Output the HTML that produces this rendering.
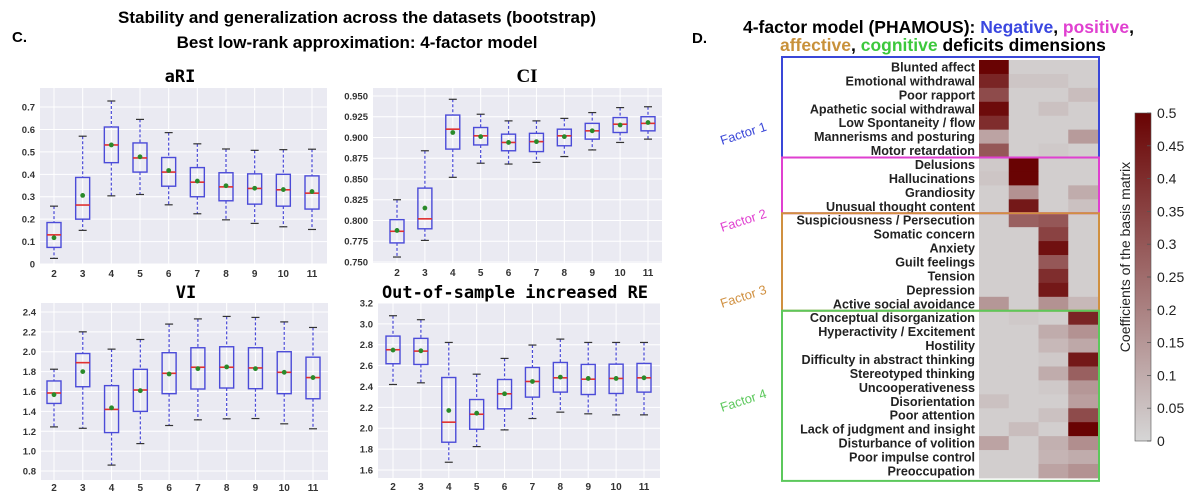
<!DOCTYPE html>
<html><head><meta charset="utf-8">
<style>
html,body{margin:0;padding:0;background:#fff;}
svg{display:block;}
</style></head>
<body>
<svg id="fig" width="1200" height="491" viewBox="0 0 1200 491" xmlns="http://www.w3.org/2000/svg" font-family="Liberation Sans, sans-serif">
<text x="12" y="42" font-size="15" font-weight="bold">C.</text>
<text x="357" y="23" font-size="17" font-weight="bold" text-anchor="middle">Stability and generalization across the datasets (bootstrap)</text>
<text x="357" y="48" font-size="17" font-weight="bold" text-anchor="middle">Best low-rank approximation: 4-factor model</text>
<text x="692" y="43" font-size="15" font-weight="bold">D.</text>
<text x="743" y="33" font-size="17.5" font-weight="bold">4-factor model (PHAMOUS): <tspan fill="#3a47e0">Negative</tspan>, <tspan fill="#e040d0">positive</tspan>,</text>
<text x="780" y="51" font-size="17.5" font-weight="bold"><tspan fill="#c8913a">affective</tspan>, <tspan fill="#3cc83c">cognitive</tspan> deficits dimensions</text>
<g id="plots"></g>
<g id="heat"></g>
</svg>
<script>
const cats = [2,3,4,5,6,7,8,9,10,11];
// aRI
const ariQ1 = [0.074,0.200,0.452,0.410,0.347,0.300,0.282,0.267,0.258,0.245];
const ariMed = [0.130,0.263,0.531,0.473,0.410,0.365,0.344,0.337,0.331,0.316];
const ariQ3 = [0.185,0.386,0.611,0.540,0.475,0.430,0.407,0.402,0.400,0.393];
const ariLo = [0.025,0.150,0.304,0.310,0.264,0.224,0.197,0.181,0.166,0.154];
const ariHi = [0.258,0.570,0.727,0.645,0.586,0.536,0.513,0.507,0.510,0.512];
const ariMean = [0.117,0.306,0.531,0.478,0.417,0.370,0.349,0.338,0.332,0.323];
const ariTicks = ["0","0.1","0.2","0.3","0.4","0.5","0.6","0.7"];
// CI
const ciQ1 = [0.773,0.790,0.886,0.891,0.884,0.883,0.890,0.898,0.906,0.908];
const ciMed = [0.787,0.802,0.910,0.902,0.894,0.895,0.902,0.908,0.916,0.917];
const ciQ3 = [0.801,0.839,0.927,0.912,0.904,0.905,0.910,0.917,0.924,0.925];
const ciLo = [0.756,0.776,0.852,0.869,0.868,0.870,0.877,0.885,0.894,0.898];
const ciHi = [0.825,0.884,0.946,0.928,0.920,0.920,0.923,0.930,0.936,0.937];
const ciMean = [0.788,0.815,0.906,0.901,0.894,0.895,0.901,0.908,0.915,0.918];
const ciTicks = ["0.750","0.775","0.800","0.825","0.850","0.875","0.900","0.925","0.950"];
// VI
const viQ1 = [1.480,1.648,1.187,1.400,1.578,1.625,1.635,1.628,1.578,1.527];
const viMed = [1.585,1.890,1.420,1.615,1.783,1.844,1.844,1.837,1.793,1.740];
const viQ3 = [1.706,1.982,1.659,1.823,1.990,2.040,2.050,2.040,2.000,1.945];
const viLo = [1.244,1.230,0.860,1.076,1.258,1.315,1.325,1.328,1.275,1.225];
const viHi = [1.824,2.200,2.026,2.123,2.278,2.330,2.355,2.345,2.300,2.244];
const viMean = [1.568,1.800,1.436,1.608,1.776,1.830,1.847,1.830,1.793,1.740];
const viTicks = ["0.8","1.0","1.2","1.4","1.6","1.8","2.0","2.2","2.4"];
// RE
const reQ1 = [2.618,2.611,1.866,1.990,2.186,2.298,2.346,2.323,2.333,2.346];
const reMed = [2.752,2.739,2.058,2.134,2.330,2.448,2.483,2.470,2.477,2.483];
const reQ3 = [2.883,2.861,2.486,2.275,2.467,2.582,2.630,2.611,2.614,2.621];
const reLo = [2.419,2.435,1.674,1.824,1.984,2.093,2.154,2.138,2.128,2.128];
const reHi = [3.078,3.040,2.822,2.518,2.669,2.797,2.854,2.822,2.822,2.822];
const reMean = [2.749,2.742,2.170,2.144,2.330,2.448,2.490,2.477,2.477,2.483];
const reTicks = ["1.6","1.8","2.0","2.2","2.4","2.6","2.8","3.0","3.2"];

// heatmap
const rowLabels = ["Blunted affect","Emotional withdrawal","Poor rapport","Apathetic social withdrawal","Low Spontaneity / flow","Mannerisms and posturing","Motor retardation","Delusions","Hallucinations","Grandiosity","Unusual thought content","Suspiciousness / Persecution","Somatic concern","Anxiety","Guilt feelings","Tension","Depression","Active social avoidance","Conceptual disorganization","Hyperactivity / Excitement","Hostility","Difficulty in abstract thinking","Stereotyped thinking","Uncooperativeness","Disorientation","Poor attention","Lack of judgment and insight","Disturbance of volition","Poor impulse control","Preoccupation"];
const factor1 = [0.50,0.42,0.33,0.48,0.40,0.12,0.30,0.03,0.04,0.02,0.02,0.02,0.02,0.02,0.02,0.02,0.02,0.15,0.02,0.02,0.02,0.02,0.02,0.02,0.05,0.02,0.02,0.12,0.02,0.02];
const factor2 = [0.02,0.04,0.02,0.02,0.02,0.02,0.02,0.50,0.50,0.16,0.45,0.28,0.02,0.02,0.02,0.02,0.02,0.02,0.03,0.02,0.02,0.02,0.02,0.02,0.02,0.02,0.06,0.02,0.02,0.02];
const factor3 = [0.02,0.04,0.02,0.05,0.02,0.02,0.03,0.02,0.02,0.02,0.02,0.30,0.35,0.47,0.30,0.40,0.45,0.16,0.02,0.10,0.07,0.03,0.10,0.03,0.02,0.05,0.02,0.09,0.08,0.12];
const factor4 = [0.02,0.02,0.06,0.02,0.02,0.14,0.02,0.02,0.02,0.10,0.05,0.02,0.02,0.02,0.02,0.02,0.02,0.07,0.42,0.16,0.11,0.45,0.28,0.15,0.13,0.33,0.50,0.17,0.10,0.16];
const cbTicks = ["0","0.05","0.1","0.15","0.2","0.25","0.3","0.35","0.4","0.45","0.5"];

const NS = "http://www.w3.org/2000/svg";
function mk(tag, attrs, parent){const e=document.createElementNS(NS,tag);for(const k in attrs)e.setAttribute(k,attrs[k]);parent.appendChild(e);return e;}

const plotsG = document.getElementById('plots');
const panels = [
 {name:'ari',title:'aRI',tf:'DejaVu Sans Mono, monospace',x0:40,x1:327,y0:88,y1:264,vmin:0,vmax:0.785,c0:54,c1:312,q1:ariQ1,med:ariMed,q3:ariQ3,lo:ariLo,hi:ariHi,mean:ariMean,ticks:ariTicks,tx:180,ty:82,xl:277},
 {name:'ci',title:'CI',tf:'Liberation Serif, serif',x0:373,x1:662,y0:88,y1:263,vmin:0.7488,vmax:0.9596,c0:397,c1:648,q1:ciQ1,med:ciMed,q3:ciQ3,lo:ciLo,hi:ciHi,mean:ciMean,ticks:ciTicks,tx:527,ty:82,xl:276},
 {name:'vi',title:'VI',tf:'DejaVu Sans Mono, monospace',x0:41,x1:328,y0:303,y1:480,vmin:0.71,vmax:2.49,c0:54,c1:313,q1:viQ1,med:viMed,q3:viQ3,lo:viLo,hi:viHi,mean:viMean,ticks:viTicks,tx:186,ty:298,xl:491},
 {name:'re',title:'Out-of-sample increased RE',tf:'DejaVu Sans Mono, monospace',x0:378,x1:660,y0:303,y1:478,vmin:1.523,vmax:3.2,c0:393,c1:644,q1:reQ1,med:reMed,q3:reQ3,lo:reLo,hi:reHi,mean:reMean,ticks:reTicks,tx:515,ty:298,xl:490}
];
panels.forEach(p=>{
  const g = mk('g',{},plotsG);
  
  
  const Y = v => p.y1 - (v-p.vmin)/(p.vmax-p.vmin)*(p.y1-p.y0);
  const X = i => p.c0 + i*(p.c1-p.c0)/(cats.length-1);
  const bg = mk('rect',{x:p.x0,y:p.y0,width:p.x1-p.x0,height:p.y1-p.y0,fill:'#eaeaf2'},g);
  
  
  const t = mk('text',{x:p.tx,y:p.ty,'font-size':p.name==='ci'?19:17,'font-weight':'bold','text-anchor':'middle','font-family':p.tf},g);
  t.textContent = p.title;
  
  
  p.ticks.forEach(s=>{
    const v=parseFloat(s), y=Y(v);
    mk('line',{x1:p.x0,x2:p.x1,y1:y,y2:y,stroke:'#fff','stroke-width':1},g);
    const tl = mk('text',{x:p.x0-5,y:y+3.5,'font-size':9.5,'font-weight':'bold','text-anchor':'end',fill:'#333'},g);
    tl.textContent = s;
    
    
  });
  cats.forEach((c,i)=>{
    const x=X(i);
    mk('line',{x1:x,x2:x,y1:p.y0,y2:p.y1,stroke:'#fff','stroke-width':1},g);
    const xl = mk('text',{x:x,y:p.xl,'font-size':10,'font-weight':'bold','text-anchor':'middle',fill:'#333'},g);
    xl.textContent = c;
    
    
    const bw=7, cw=4;
    const bx = mk('g',{},g);
    
    
    mk('line',{x1:x,x2:x,y1:Y(p.hi[i]),y2:Y(p.q3[i]),stroke:'#4b4bd8','stroke-width':1.2,'stroke-dasharray':'3,2'},bx);
    mk('line',{x1:x,x2:x,y1:Y(p.q1[i]),y2:Y(p.lo[i]),stroke:'#4b4bd8','stroke-width':1.2,'stroke-dasharray':'3,2'},bx);
    mk('line',{x1:x-cw,x2:x+cw,y1:Y(p.hi[i]),y2:Y(p.hi[i]),stroke:'#333','stroke-width':1.2},bx);
    mk('line',{x1:x-cw,x2:x+cw,y1:Y(p.lo[i]),y2:Y(p.lo[i]),stroke:'#333','stroke-width':1.2},bx);
    mk('rect',{x:x-bw,y:Y(p.q3[i]),width:bw*2,height:Y(p.q1[i])-Y(p.q3[i]),fill:'none',stroke:'#4b4bd8','stroke-width':1.4},bx);
    mk('line',{x1:x-bw,x2:x+bw,y1:Y(p.med[i]),y2:Y(p.med[i]),stroke:'#e03030','stroke-width':1.6},bx);
    mk('circle',{cx:x,cy:Y(p.mean[i]),r:2.4,fill:'#2a8a2a'},bx);
  });
});

// heatmap
const hg = document.getElementById('heat');
const hx0=979, hy0=60, cw=29.75, rh=13.93;
const factors=[factor1,factor2,factor3,factor4];
function col(v){const t=Math.max(0,Math.min(1,v/0.5));const a=[214,214,214],b=[105,3,3];return 'rgb('+a.map((c,k)=>Math.round(c+(b[k]-c)*t)).join(',')+')';}
rowLabels.forEach((lab,r)=>{
  const y=hy0+r*rh;
  const tl=mk('text',{x:975,y:y+rh/2+4.5,'font-size':12.6,'font-weight':'bold','text-anchor':'end','font-family':'Liberation Sans, sans-serif',fill:'#222'},hg);
  tl.textContent=lab;
  
  
  factors.forEach((f,c)=>{
    const cell=mk('rect',{x:hx0+c*cw,y:y,width:cw+0.5,height:rh+0.5,fill:col(f[r])},hg);
    
    
  });
});
// factor boxes
const boxes=[{n:'factor-1',r0:0,r1:7,c:'#3a47d8',l:'Factor 1',lx:722,ly:145},{n:'factor-2',r0:7,r1:11,c:'#e040d0',l:'Factor 2',lx:722,ly:232},{n:'factor-3',r0:11,r1:18,c:'#d09040',l:'Factor 3',lx:722,ly:308},{n:'factor-4',r0:18,r1:30,c:'#5cc85c',l:'Factor 4',lx:722,ly:412}];
boxes.forEach(b=>{
  const y0=hy0+b.r0*rh-(b.r0===0?3:0), y1=hy0+b.r1*rh+(b.r1===30?3:0);
  const rr=mk('rect',{x:782,y:y0,width:1099-782,height:y1-y0,fill:'none',stroke:b.c,'stroke-width':2},hg);
  
  
  const t=mk('text',{x:b.lx,y:b.ly,'font-size':13,fill:b.c,transform:'rotate(-18 '+b.lx+' '+b.ly+')'},hg);
  t.textContent=b.l;
  
  
});
// colorbar
const defs=mk('defs',{},hg);
const lg=mk('linearGradient',{id:'cb',x1:0,y1:1,x2:0,y2:0},defs);
mk('stop',{offset:0,'stop-color':col(0)},lg);
mk('stop',{offset:1,'stop-color':col(0.5)},lg);
const cbY0=113, cbY1=441;
const cb=mk('rect',{x:1135,y:cbY0,width:16,height:cbY1-cbY0,fill:'url(#cb)',stroke:'#555','stroke-width':0.6},hg);


cbTicks.forEach(s=>{
  const v=parseFloat(s), y=cbY1-(v/0.5)*(cbY1-cbY0);
  mk('line',{x1:1147,x2:1151,y1:y,y2:y,stroke:'#555','stroke-width':0.8},hg);
  const t=mk('text',{x:1157,y:y+5,'font-size':14,fill:'#222'},hg);
  t.textContent=s;
  
  
});
const ct=mk('text',{x:1130,y:257,'font-size':14,'text-anchor':'middle',fill:'#222',transform:'rotate(-90 1130 257)'},hg);
ct.textContent='Coefficients of the basis matrix';


</script>
</body></html>
